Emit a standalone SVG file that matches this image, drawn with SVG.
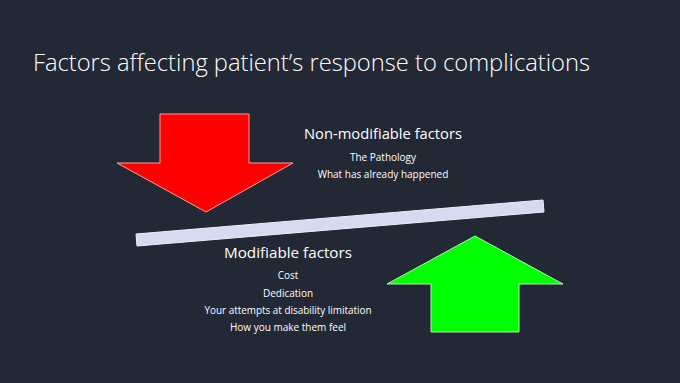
<svg xmlns="http://www.w3.org/2000/svg" width="680" height="383" viewBox="0 0 680 383">
<style>
.t{font-family:"Open Sans","Liberation Sans",sans-serif;fill:#ffffff;text-anchor:middle}
.h{font-size:15px}
.s{font-size:10px}
</style>
<rect width="680" height="383" fill="#222834"/>
<text x="33" y="71" font-family="'Open Sans','Liberation Sans',sans-serif" font-weight="300" font-size="24" fill="#ffffff" textLength="557" lengthAdjust="spacingAndGlyphs">Factors affecting patient’s response to complications</text>
<g id="red-arrow"><polygon points="160,114 249,114 249,163 293,163 206,212 117,163 160,163" fill="#ff0000" stroke="#ff9a9a" stroke-width="1"/></g>
<g id="bar"><polygon points="136,234 543,200 544,212 137,246" fill="#d4dbee" stroke="#eef1f8" stroke-width="1"/></g>
<g id="green-arrow"><polygon points="475,236 563,284 519,284 519,332 431,332 431,284 387,284" fill="#00ff00" stroke="#b6f0b6" stroke-width="1"/></g>
<g id="non-modifiable">
<text class="t h" x="383" y="139" textLength="158" lengthAdjust="spacingAndGlyphs">Non-modifiable factors</text>
<text class="t s" x="383" y="161">The Pathology</text>
<text class="t s" x="383" y="178">What has already happened</text>
</g>
<g id="modifiable">
<text class="t h" x="288" y="258" textLength="128" lengthAdjust="spacingAndGlyphs">Modifiable factors</text>
<text class="t s" x="288" y="279">Cost</text>
<text class="t s" x="288" y="297">Dedication</text>
<text class="t s" x="288" y="314" textLength="167" lengthAdjust="spacingAndGlyphs">Your attempts at disability limitation</text>
<text class="t s" x="288" y="331">How you make them feel</text>
</g>
</svg>
